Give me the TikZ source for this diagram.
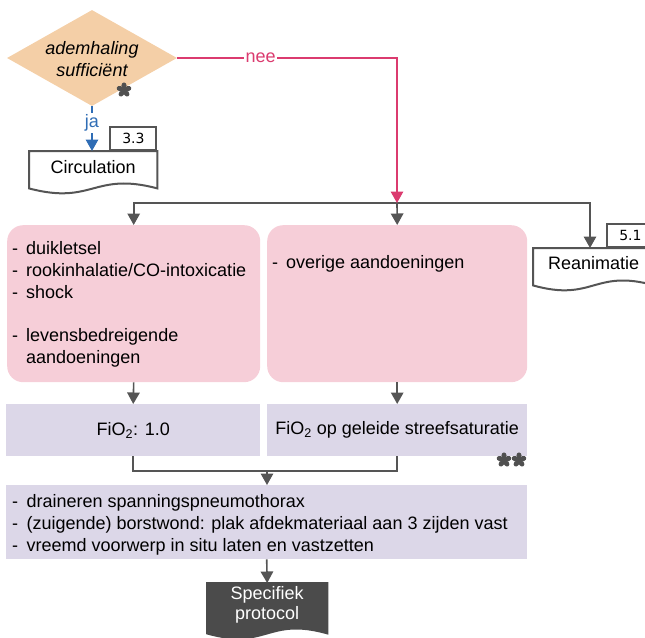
\documentclass[tikz,border=0pt]{standalone}
\usepackage{fontspec}
\setmainfont{Liberation Sans}
\newfontfamily\dvsans{DejaVu Sans}
\usetikzlibrary{shapes.geometric,arrows.meta,calc}
\definecolor{peach}{HTML}{F4CFA7}
\definecolor{rosebox}{HTML}{F6CED8}
\definecolor{lavbox}{HTML}{DCD7E8}
\definecolor{neecol}{HTML}{DB3B6F}
\definecolor{jacol}{HTML}{2F6DB5}
\definecolor{linecol}{HTML}{555555}
\definecolor{darkdoc}{HTML}{4B4B4B}
\definecolor{starcol}{HTML}{505050}
\tikzset{
 txt/.style={font=\fontsize{18}{21.8}\selectfont, inner sep=0pt},
 conn/.style={draw=linecol, line width=1.6pt},
 tip/.style={-{Triangle[length=11.5pt,width=12.5pt]}},
 rbox/.style={fill=rosebox, rounded corners=16pt, anchor=north west, inner sep=0pt, minimum height=157pt},
 lbox/.style={fill=lavbox, anchor=north west, inner sep=0pt, font=\fontsize{18}{21.8}\selectfont},
 docbody/.style={anchor=north west, inner sep=0pt, minimum height=37pt},
 docline/.style={line width=2pt, line join=miter},
 tabbox/.style={draw=linecol, line width=2pt, fill=white, anchor=south east, inner sep=0pt, minimum width=46pt, minimum height=23pt, font=\dvsans\fontsize{14}{16}\selectfont},
 lbl/.style={fill=white, inner sep=1.5pt, font=\fontsize{18}{20}\selectfont},
}
\newcommand\docpath[3]{%
  \filldraw[docline, draw=#3, fill=#2] (#1.south west) -- (#1.north west) -- (#1.north east) -- (#1.south east)
   .. controls ($(#1.south)+(0,-17)$) and ($(#1.south)+(0,17)$) .. (#1.south west) -- cycle;}
\newcommand\flowerat[1]{%
  \begin{scope}[shift={(#1)}]
  \fill[starcol] (0,0) circle (2.8pt);
  \foreach \a in {90,162,234,306,18}{\fill[starcol, rotate=\a] (4.2,0) ellipse [x radius=3.4pt, y radius=2.6pt];}
  \end{scope}}
\begin{document}
\begin{tikzpicture}[x=1pt,y=-1pt]
\useasboundingbox (0,0) rectangle (645,637);
% decision
\node[diamond, fill=peach, minimum width=170pt, minimum height=96pt, inner sep=0pt] (dec) at (92,58) {};
\node[inner sep=0pt, font=\itshape\fontsize{18}{22}\selectfont, align=center] (dect) at (92,59) {ademhaling\\sufficiënt};
\coordinate (st1) at (124,90);
\flowerat{st1}
% Circulation
\node[docbody, minimum width=128pt] (circ) at (29,151) {};
\docpath{circ}{white}{linecol}
\node[txt] (circt) at ($(circ.center)+(0,-2.5)$) {Circulation};
\node[tabbox] (circtab) at (circ.north east) {3.3};
% Reanimatie
\node[docbody, minimum width=121pt] (rean) at (533,248) {};
\docpath{rean}{white}{linecol}
\node[txt] (reant) at ($(rean.center)+(0,-3.5)$) {Reanimatie};
\node[tabbox] (reantab) at (rean.north east) {5.1};
% pink boxes
\node[rbox, minimum width=253pt] (b1) at (7,225) {};
\node[rbox, minimum width=260pt] (b2) at (267,225) {};
\node[txt, anchor=north west] (b1t) at (12,239.2) {\begin{tabular}{@{}p{14pt}@{}l@{}}-&duikletsel\\-&rookinhalatie/CO-intoxicatie\\-&shock\\&\\-&levensbedreigende\\&aandoeningen\end{tabular}};
\node[txt, anchor=north west] (b2t) at (272,253.2) {\begin{tabular}{@{}p{14pt}@{}l@{}}-&overige aandoeningen\end{tabular}};
% FiO2 boxes
\node[lbox, minimum width=254pt, minimum height=52pt] (f1) at (6,404) {FiO\textsubscript{2}: 1.0};
\node[lbox, minimum width=260pt, minimum height=52pt] (f2) at (267,404) {FiO\textsubscript{2} op geleide streefsaturatie};
\coordinate (st2) at (504,460);
\coordinate (st3) at (519,460);
\flowerat{st2}
\flowerat{st3}
% actions
\node[lbox, minimum width=521pt, minimum height=74pt] (acts) at (6,485) {};
\node[txt, anchor=north west] (actst) at (12,492.2) {\begin{tabular}{@{}p{14.5pt}@{}l@{}}-&draineren spanningspneumothorax\\-&(zuigende) borstwond: plak afdekmateriaal aan 3 zijden vast\\-&vreemd voorwerp in situ laten en vastzetten\end{tabular}};
% Specifiek protocol
\node[docbody, minimum width=120pt, minimum height=50pt] (spec) at (207,583) {};
\docpath{spec}{darkdoc}{darkdoc}
\node[inner sep=0pt, text=white, align=center, font=\fontsize{18}{20}\selectfont] (spect) at ($(spec.center)+(0,-3)$) {Specifiek\\protocol};
% connectors
\coordinate (jn) at (397,203);
\coordinate (jr) at (590,203);
\coordinate (mg) at (267,471);
\draw[conn, tip] (jn) -| (b1.north);
\draw[conn, tip] (jn) -- (b2.north);
\draw[conn, tip] (jn) -- (jr) -- (jr |- rean.north);
\draw[conn, draw=jacol, tip] (dec.south) -- (dec.south |- circ.north) node[lbl, text=jacol, pos=0.38] {ja};
\draw[conn, draw=neecol, tip] (dec.east) -| (jn) node[lbl, text=neecol, pos=0.19] {nee};
\draw[conn, tip] (b1.south) -- (f1.north);
\draw[conn, tip] (b2.south) -- (f2.north);
\draw[conn] (f1.south) |- (mg) -| (f2.south);
\draw[conn, tip] (mg) -- (mg |- acts.north);
\draw[conn, tip] (acts.south) -- (spec.north);
\end{tikzpicture}
\end{document}
